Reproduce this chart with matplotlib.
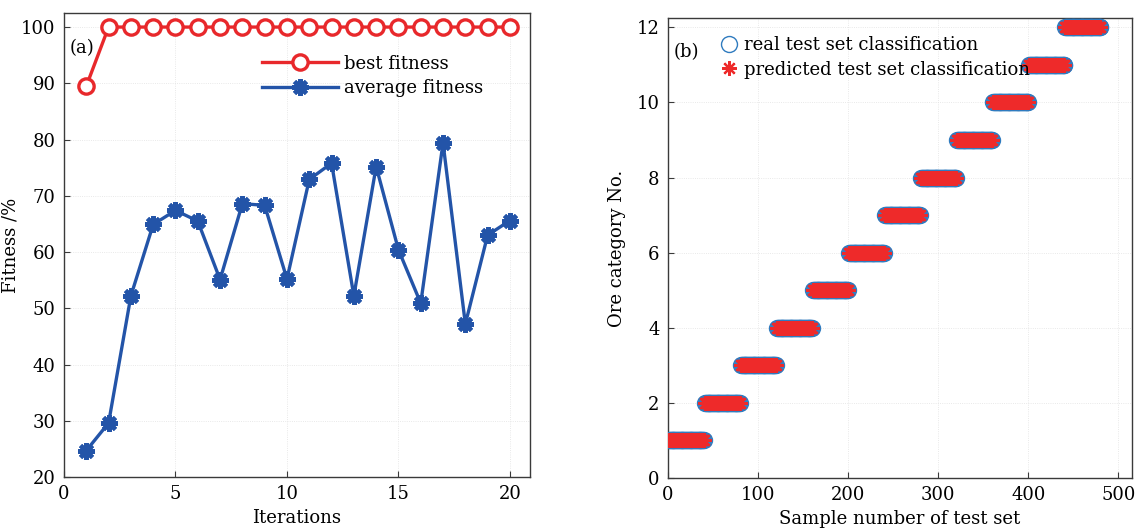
import numpy as np
import matplotlib
matplotlib.use("Agg")
import matplotlib.pyplot as plt

plt.rcParams["font.family"] = ["DejaVu Serif"]
plt.rcParams["mathtext.fontset"] = "dejavuserif"

# panel (a): GA fitness per iteration
iterations = list(range(1, 21))
best_fitness = [89.5] + [100.0] * 19
avg_fitness = [24.7, 29.6, 52.2, 64.9, 67.4, 65.5, 55.1, 68.6, 68.3, 55.2,
               72.9, 75.8, 52.2, 75.2, 60.4, 50.9, 79.4, 47.2, 63.0, 65.6]

# panel (b): test-set classes, 40 samples per ore category
categories = list(range(1, 13))
samples_per_cat = [40] * 12

RED = "#e8282b"
BLUE = "#2354a8"
M_BLUE = "#2f7bbf"
M_RED = "#ee2a2a"
FS = 13

W, H = 1136, 529
fig = plt.figure(figsize=(W / 100, H / 100), dpi=100)


def px_axes(x0, y0, x1, y1):
    return fig.add_axes([x0 / W, (H - y1) / H, (x1 - x0) / W, (y1 - y0) / H])


def style(ax):
    for sp in ax.spines.values():
        sp.set_color("#3a3a3a")
        sp.set_linewidth(1.0)
    ax.tick_params(direction="in", length=4, width=0.8, color="#3a3a3a",
                   labelsize=FS, pad=6)
    ax.grid(True, color="#e2e2e2", linestyle=":", linewidth=0.6)
    ax.set_axisbelow(True)


# ---- (a)
ax = px_axes(64, 13, 530, 477)
style(ax)
ax.plot(iterations, best_fitness, color=RED, lw=2.4, marker="o", ms=11,
        mfc="white", mec=RED, mew=2.4, label="best fitness", zorder=3)
ax.plot(iterations, avg_fitness, color=BLUE, lw=2.4, marker=(8, 2, 0), ms=12,
        mec=BLUE, mew=3.0, label="average fitness", zorder=3)
ax.set_xlim(0, 20.9)
ax.set_ylim(20, 102.5)
ax.set_xticks([0, 5, 10, 15, 20])
ax.set_yticks(range(20, 101, 10))
ax.set_xlabel("Iterations", fontsize=FS, labelpad=4)
ax.set_ylabel("Fitness /%", fontsize=FS)
ax.yaxis.set_label_coords(-0.095, 0.5)
ax.text(0.012, 0.925, "(a)", transform=ax.transAxes, fontsize=FS,
        ha="left", va="center")
ax.legend(loc="upper left", bbox_to_anchor=(0.425, 0.91), frameon=False,
          fontsize=FS, handlelength=4.2, handletextpad=0.35,
          borderpad=0, borderaxespad=0, labelspacing=0.35)

# ---- (b)
bx = px_axes(668, 18, 1132, 478)
style(bx)
sample_idx = np.arange(1, sum(samples_per_cat) + 1)
true_cls = np.repeat(categories, samples_per_cat)
pred_cls = true_cls.copy()
bx.plot(sample_idx, true_cls, ls="none", marker="o", ms=11.5, mfc="none",
        mec=M_BLUE, mew=1.0, label="real test set classification", zorder=3)
bx.plot(sample_idx, pred_cls, ls="none", marker=(8, 2, 0), ms=10.5,
        mec=M_RED, mew=1.6, label="predicted test set classification",
        zorder=4)
bx.set_xlim(0, 515)
bx.set_ylim(0, 12.25)
bx.set_xticks(range(0, 501, 100))
bx.set_yticks(range(0, 13, 2))
bx.set_xlabel("Sample number of test set", fontsize=FS, labelpad=4)
bx.set_ylabel("Ore category No.", fontsize=FS)
bx.yaxis.set_label_coords(-0.09, 0.5)
bx.text(0.012, 0.925, "(b)", transform=bx.transAxes, fontsize=FS,
        ha="left", va="center")
bx.legend(loc="upper left", bbox_to_anchor=(0.115, 0.96), frameon=False,
          fontsize=FS, handlelength=0.8, handletextpad=0.45, markerscale=1.0,
          borderpad=0, borderaxespad=0, labelspacing=0.35)

fig.savefig("out.png", dpi=100)
